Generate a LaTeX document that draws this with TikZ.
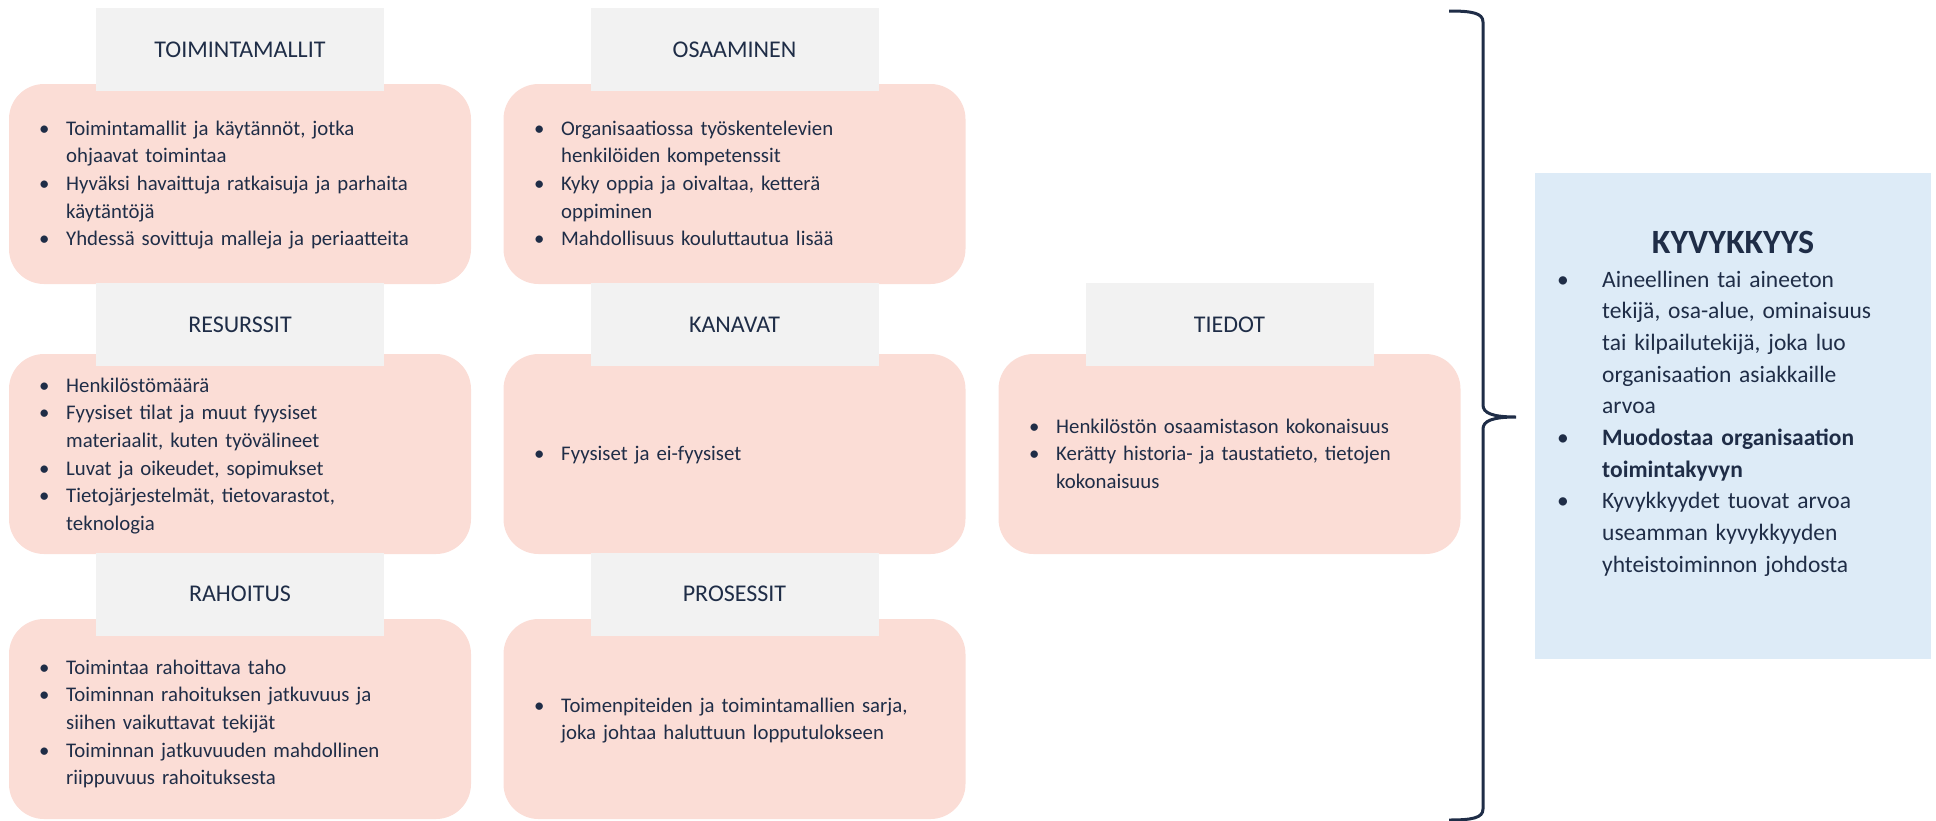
\documentclass[tikz,border=0pt]{standalone}
\usepackage{fontspec}
\setmainfont{Carlito}
\usepackage{tikz}

\definecolor{txtcol}{RGB}{31,45,71}
\definecolor{boxpink}{RGB}{251,221,214}
\definecolor{headgrey}{RGB}{242,242,242}
\definecolor{capblue}{RGB}{221,235,247}

\newcommand{\itm}[1]{\hangindent=27pt\hangafter=1\noindent\makebox[27pt][l]{\textbullet}#1\par}
\newcommand{\bitm}[1]{\hangindent=45pt\hangafter=1\noindent\makebox[45pt][l]{\textbullet}#1\par}

\tikzset{
	pinkbox/.style={fill=boxpink, rounded corners=35pt, minimum width=462pt, minimum height=200pt, inner sep=0pt},
	headbox/.style={fill=headgrey, minimum width=288pt, minimum height=83pt, inner sep=0pt, text=txtcol, font=\fontsize{24}{28}\selectfont},
	itemtext/.style={anchor=base west, inner sep=0pt, text=txtcol, text width=425pt, align=left, font=\fontsize{20.8}{27.7}\selectfont},
}

\begin{document}
\begin{tikzpicture}[x=1pt, y=-1pt]
	\useasboundingbox (0,0) rectangle (1936,820);
	\foreach \name/\cx/\by/\hy/\title in {toim/240/184/49.5/TOIMINTAMALLIT, osaa/734.5/184/49.5/OSAAMINEN, resu/240/454/324.5/RESURSSIT, kana/734.5/454/324.5/KANAVAT, tied/1229.5/454/324.5/TIEDOT, raho/240/719/594/RAHOITUS, pros/734.5/719/594/PROSESSIT}{
		\node [pinkbox] (\name) at (\cx,\by) {};
		\node [headbox] (\name-h) at (\cx,\hy) {\title};
	}
	\node [itemtext] (toim-t) at (39,135) {\itm{Toimintamallit ja käytännöt, jotka\newline ohjaavat toimintaa}\itm{Hyväksi havaittuja ratkaisuja ja parhaita\newline käytäntöjä}\itm{Yhdessä sovittuja malleja ja periaatteita}};
	\node [itemtext] (osaa-t) at (534,135) {\itm{Organisaatiossa työskentelevien\newline henkilöiden kompetenssit}\itm{Kyky oppia ja oivaltaa, ketterä\newline oppiminen}\itm{Mahdollisuus kouluttautua lisää}};
	\node [itemtext] (resu-t) at (39,392) {\itm{Henkilöstömäärä}\itm{Fyysiset tilat ja muut fyysiset\newline materiaalit, kuten työvälineet}\itm{Luvat ja oikeudet, sopimukset}\itm{Tietojärjestelmät, tietovarastot,\newline teknologia}};
	\node [itemtext] (kana-t) at (534,460) {\itm{Fyysiset ja ei-fyysiset}};
	\node [itemtext] (tied-t) at (1029,433) {\itm{Henkilöstön osaamistason kokonaisuus}\itm{Kerätty historia- ja taustatieto, tietojen\newline kokonaisuus}};
	\node [itemtext] (raho-t) at (39,674) {\itm{Toimintaa rahoittava taho}\itm{Toiminnan rahoituksen jatkuvuus ja\newline siihen vaikuttavat tekijät}\itm{Toiminnan jatkuvuuden mahdollinen\newline riippuvuus rahoituksesta}};
	\node [itemtext] (pros-t) at (534,712) {\itm{Toimenpiteiden ja toimintamallien sarja,\newline joka johtaa haluttuun lopputulokseen}};

	\node [fill=capblue, minimum width=396pt, minimum height=486pt, inner sep=0pt] (kyky) at (1733,416) {};
	\node [anchor=base, inner sep=0pt, text=txtcol, font=\bfseries\fontsize{34}{40}\selectfont] (kyky-h) at (1733,253) {KYVYKKYYS};
	\node [itemtext, text width=365pt, font=\fontsize{23.5}{31.7}\selectfont] (kyky-t) at (1557,287) {\bitm{Aineellinen tai aineeton\newline tekijä, osa-alue, ominaisuus\newline tai kilpailutekijä, joka luo\newline organisaation asiakkaille\newline arvoa}\bitm{\textbf{Muodostaa organisaation\newline toimintakyvyn}}\bitm{Kyvykkyydet tuovat arvoa\newline useamman kyvykkyyden\newline yhteistoiminnon johdosta}};

	\coordinate (brtop) at (1449,11);
	\coordinate (brtip) at (1516,417);
	\coordinate (brbot) at (1449,820);
	\draw [txtcol, line width=3pt] (brtop) .. controls (1472,11) and (1483,13) .. (1483,22) -- (1483,405) .. controls (1483,413) and (1492,417) .. (brtip) .. controls (1492,417) and (1483,421) .. (1483,429) -- (1483,809) .. controls (1483,818) and (1472,820) .. (brbot);
\end{tikzpicture}
\end{document}
